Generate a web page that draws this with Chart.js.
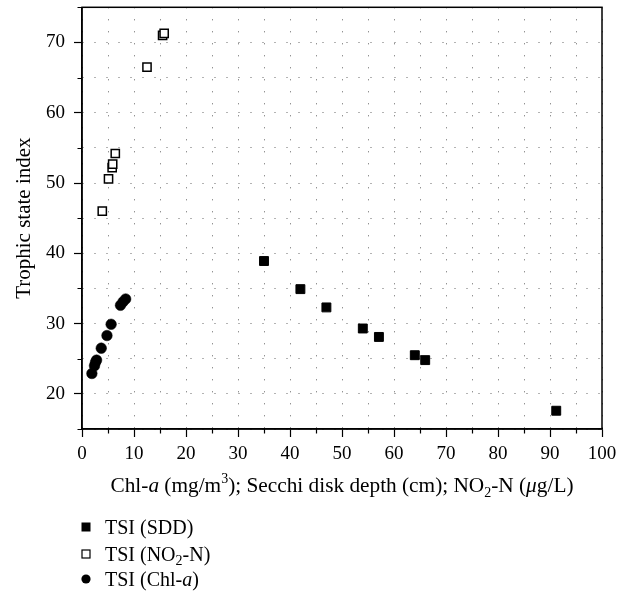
<!DOCTYPE html>
<html>
<head>
<meta charset="utf-8">
<script src="https://cdn.jsdelivr.net/npm/chart.js@4.4.1/dist/chart.umd.min.js"></script>
<style>
  html, body { margin: 0; padding: 0; background: #fff; }
  #wrap { width: 628px; height: 594px; position: relative; }
</style>
</head>
<body>
<div id="wrap"><canvas id="tsi"></canvas></div>
<script>
// TSI (SDD) against Secchi disk depth (cm)
const sddDepth = [35.0, 42.0, 47.0, 54.0, 57.1, 64.0, 66.0, 91.2];
const sddTsi = [38.9, 34.9, 32.3, 29.3, 28.1, 25.5, 24.8, 17.6];

// TSI (NO2-N) against NO2-N (ug/L)
const no2Conc = [3.9, 5.1, 5.8, 5.9, 6.4, 12.5, 15.5, 15.8];
const no2Tsi = [46.0, 50.6, 52.2, 52.7, 54.2, 66.5, 71.0, 71.3];

// TSI (Chl-a) against Chl-a (mg/m3)
const chlConc = [1.9, 2.4, 2.6, 2.8, 3.7, 4.8, 5.6, 7.4, 7.9, 8.4];
const chlTsi = [22.9, 24.0, 24.5, 24.8, 26.5, 28.3, 29.9, 32.6, 33.1, 33.5];

// labelled ticks; the in-between fives only get a short tick and a grid line
const xTickLabels = [0, 10, 20, 30, 40, 50, 60, 70, 80, 90, 100];
const yTickLabels = [20, 30, 40, 50, 60, 70];

const SERIF = "'Liberation Serif', 'DejaVu Serif', serif";

function toPoints(xs, ys) {
  return xs.map((x, i) => ({ x: x, y: ys[i] }));
}

// text pieces can be italic, subscript or superscript
function pieceFont(p, size) {
  const s = (p.sub || p.sup) ? Math.round(size * 0.68) : size;
  return (p.it ? 'italic ' : '') + s + 'px ' + SERIF;
}
function richWidth(ctx, parts, size) {
  let w = 0;
  parts.forEach(p => {
    ctx.font = pieceFont(p, size);
    w += ctx.measureText(p.t).width;
  });
  return w;
}
function drawRich(ctx, parts, x, y, size) {
  let cx = x;
  ctx.textAlign = 'left';
  ctx.textBaseline = 'alphabetic';
  ctx.fillStyle = '#000';
  parts.forEach(p => {
    ctx.font = pieceFont(p, size);
    const dy = p.sup ? -size * 0.42 : (p.sub ? size * 0.22 : 0);
    ctx.fillText(p.t, cx, y + dy);
    cx += ctx.measureText(p.t).width;
  });
}

const xTitle = [
  { t: 'Chl-' }, { t: 'a', it: true }, { t: ' (mg/m' }, { t: '3', sup: true },
  { t: '); Secchi disk depth (cm); NO' }, { t: '2', sub: true },
  { t: '-N (' }, { t: 'μ', it: true }, { t: 'g/L)' }
];

const legendItems = [
  { style: 'filledSquare', parts: [{ t: 'TSI (SDD)' }] },
  { style: 'openSquare', parts: [{ t: 'TSI (NO' }, { t: '2', sub: true }, { t: '-N)' }] },
  { style: 'circle', parts: [{ t: 'TSI (Chl-' }, { t: 'a', it: true }, { t: ')' }] }
];

// frame, minor ticks, axis titles and the legend
const decorations = {
  id: 'decorations',
  afterDraw(chart) {
    const ctx = chart.ctx;
    const area = chart.chartArea;
    const xs = chart.scales.x;
    const ys = chart.scales.y;
    ctx.save();

    ctx.strokeStyle = '#000';
    ctx.lineWidth = 1.5;
    ctx.strokeRect(area.left, area.top, area.right - area.left, area.bottom - area.top);

    ctx.lineWidth = 1.2;
    ctx.beginPath();
    xs.ticks.forEach(t => {
      if (t.value % 10 === 0) return;
      const px = Math.round(xs.getPixelForValue(t.value)) + 0.5;
      ctx.moveTo(px, area.bottom);
      ctx.lineTo(px, area.bottom + 4.5);
    });
    ys.ticks.forEach(t => {
      if (t.value % 10 === 0) return;
      const py = Math.round(ys.getPixelForValue(t.value)) + 0.5;
      ctx.moveTo(area.left, py);
      ctx.lineTo(area.left - 4.5, py);
    });
    ctx.stroke();

    // x title
    const size = 21.3;
    const w = richWidth(ctx, xTitle, size);
    drawRich(ctx, xTitle, (area.left + area.right) / 2 - w / 2, 492, size);

    // y title
    ctx.save();
    ctx.translate(24, (area.top + area.bottom) / 2);
    ctx.rotate(-Math.PI / 2);
    ctx.font = '21px ' + SERIF;
    ctx.textAlign = 'center';
    ctx.textBaseline = 'middle';
    ctx.fillStyle = '#000';
    ctx.fillText('Trophic state index', 0, 0);
    ctx.restore();

    // legend
    const rows = [527, 554, 579];
    legendItems.forEach((item, i) => {
      const cy = rows[i];
      const mx = 86;
      ctx.fillStyle = '#000';
      ctx.strokeStyle = '#000';
      if (item.style === 'filledSquare') {
        ctx.fillRect(mx - 4.5, cy - 4.5, 9, 9);
      } else if (item.style === 'openSquare') {
        ctx.lineWidth = 1.2;
        ctx.fillStyle = '#fff';
        ctx.fillRect(mx - 4, cy - 4, 8, 8);
        ctx.strokeRect(mx - 4, cy - 4, 8, 8);
      } else {
        ctx.beginPath();
        ctx.arc(mx, cy, 4.6, 0, Math.PI * 2);
        ctx.fill();
      }
      drawRich(ctx, item.parts, 105, cy + 6.5, 20);
    });

    ctx.restore();
  }
};

const tickFont = { family: SERIF, size: 19 };

new Chart(document.getElementById('tsi'), {
  type: 'scatter',
  data: {
    datasets: [
      {
        label: 'TSI (SDD)',
        data: toPoints(sddDepth, sddTsi),
        pointStyle: 'rect',
        pointRadius: 6.3,
        backgroundColor: '#000',
        borderColor: '#000',
        borderWidth: 1
      },
      {
        label: 'TSI (NO2-N)',
        data: toPoints(no2Conc, no2Tsi),
        pointStyle: 'rect',
        pointRadius: 5.8,
        backgroundColor: '#fff',
        borderColor: '#000',
        borderWidth: 1.5
      },
      {
        label: 'TSI (Chl-a)',
        data: toPoints(chlConc, chlTsi),
        pointStyle: 'circle',
        pointRadius: 5.3,
        backgroundColor: '#000',
        borderColor: '#000',
        borderWidth: 0.5
      }
    ]
  },
  options: {
    responsive: true,
    maintainAspectRatio: false,
    animation: false,
    layout: { padding: { top: 6, right: 26, left: 0, bottom: 0 } },
    plugins: {
      legend: { display: false },
      tooltip: { enabled: false }
    },
    scales: {
      x: {
        type: 'linear',
        min: 0,
        max: 100,
        afterFit: s => {
          s.height = 165;
          s.paddingLeft = 0;
          s.paddingRight = 0;
        },
        ticks: {
          stepSize: 5,
          autoSkip: false,
          maxRotation: 0,
          padding: 6,
          color: '#000',
          font: tickFont,
          callback: v => xTickLabels.includes(v) ? String(v) : ''
        },
        grid: {
          color: '#666',
          lineWidth: 1,
          tickLength: 8,
          tickWidth: 1.2,
          tickColor: c => (c.tick && c.tick.value % 10 === 0) ? '#000' : 'rgba(0,0,0,0)'
        },
        border: { display: true, color: '#000', width: 1.5, dash: [1, 11] }
      },
      y: {
        type: 'linear',
        min: 15,
        max: 75,
        afterFit: s => {
          s.width = 82;
          s.paddingTop = 0;
          s.paddingBottom = 0;
        },
        ticks: {
          stepSize: 5,
          autoSkip: false,
          padding: 9,
          color: '#000',
          font: tickFont,
          callback: v => yTickLabels.includes(v) ? String(v) : ''
        },
        grid: {
          color: '#666',
          lineWidth: 1,
          tickLength: 8,
          tickWidth: 1.2,
          tickColor: c => (c.tick && c.tick.value % 10 === 0) ? '#000' : 'rgba(0,0,0,0)'
        },
        border: { display: true, color: '#000', width: 1.5, dash: [1, 11] }
      }
    }
  },
  plugins: [decorations]
});
</script>
</body>
</html>
